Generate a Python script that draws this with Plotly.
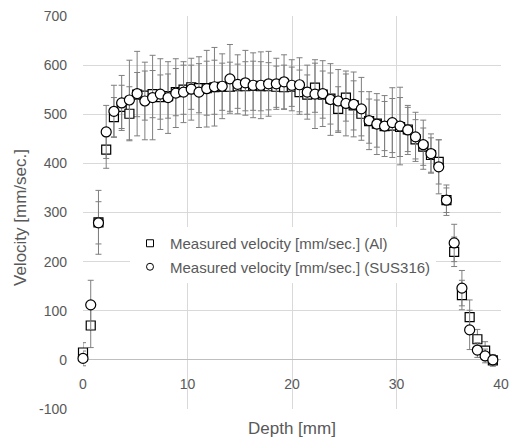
import plotly.graph_objects as go

# ---------------- data ----------------
depth_mm = [0, 0.74, 1.48, 2.22, 2.96, 3.7, 4.44, 5.18, 5.92, 6.66, 7.4, 8.14, 8.88, 9.62,
            10.36, 11.1, 11.84, 12.58, 13.32, 14.06, 14.8, 15.54, 16.28, 17.02, 17.76, 18.5,
            19.24, 19.98, 20.72, 21.46, 22.2, 22.94, 23.68, 24.42, 25.16, 25.9, 26.64, 27.38,
            28.12, 28.86, 29.6, 30.34, 31.08, 31.82, 32.56, 33.3, 34.04, 34.78, 35.52, 36.26,
            37.0, 37.74, 38.48, 39.22]

vel_al = [15, 70, 280, 428, 494, 515, 501, 540, 538, 541, 535, 537, 545, 550,
          555, 553, 553, 555, 556, 556, 557, 557, 558, 557, 557, 556,
          555, 556, 545, 540, 554, 540, 532, 511, 534, 518, 501, 486,
          481, 476, 477, 474, 469, 449, 434, 417, 403, 325, 220, 132,
          87, 42, 19, -1]

err_al = [20, 45, 65, 38, 40, 44, 55, 45, 50, 48, 45, 45, 48, 50,
          45, 50, 55, 55, 48, 50, 45, 50, 50, 50, 48, 42,
          45, 40, 45, 40, 50, 48, 52, 45, 48, 50, 45, 45,
          48, 50, 55, 60, 45, 40, 38, 35, 45, 25, 30, 30,
          35, 20, 18, 12]

vel_sus = [3, 112, 279, 464, 506, 523, 529, 542, 527, 534, 541, 534, 543, 545,
           551, 545, 552, 556, 557, 572, 561, 564, 559, 559, 562, 562,
           566, 559, 560, 545, 541, 542, 530, 527, 522, 520, 511, 487,
           480, 476, 483, 476, 468, 454, 438, 420, 393, 325, 238, 146,
           61, 20, 8, 0]

err_sus = [15, 50, 43, 54, 53, 56, 81, 86, 79, 86, 72, 73, 70, 62,
           63, 72, 78, 80, 66, 70, 60, 66, 66, 68, 66, 52,
           55, 52, 55, 55, 70, 67, 73, 64, 66, 66, 64, 59,
           62, 62, 71, 79, 50, 50, 50, 40, 55, 31, 38, 36,
           40, 15, 14, 10]

series_names = ["Measured velocity [mm/sec.] (Al)",
                "Measured velocity [mm/sec.] (SUS316)"]

x_ticks = [0, 10, 20, 30, 40]
y_ticks = [-100, 0, 100, 200, 300, 400, 500, 600, 700]

# ---------------- styling ----------------
FONT = "Liberation Sans, Arial, sans-serif"
TXT = "#595959"
GRID = "#d9d9d9"
ERR = "#7f7f7f"

fig = go.Figure()

def err(arr):
    return dict(type="data", array=arr, visible=True, color=ERR, thickness=1, width=3)

fig.add_trace(go.Scatter(
    x=depth_mm, y=vel_al, mode="markers", name=series_names[0], showlegend=False,
    error_y=err(err_al), cliponaxis=False,
    marker=dict(symbol="square", size=9, color="white", line=dict(color="black", width=1.2)),
))
fig.add_trace(go.Scatter(
    x=depth_mm, y=vel_sus, mode="markers", name=series_names[1], showlegend=False,
    error_y=err(err_sus), cliponaxis=False,
    marker=dict(symbol="circle", size=10, color="white", line=dict(color="black", width=1.2)),
))

# legend-only entries (smaller symbols as in the reference legend)
fig.add_trace(go.Scatter(
    x=[None], y=[None], mode="markers", name=series_names[0], legendgroup="a",
    marker=dict(symbol="square", size=7, color="white", line=dict(color="black", width=1)),
))
fig.add_trace(go.Scatter(
    x=[None], y=[None], mode="markers", name=series_names[1], legendgroup="b",
    marker=dict(symbol="circle", size=7, color="white", line=dict(color="black", width=1)),
))

fig.update_layout(
    width=510, height=440,
    margin=dict(l=83, r=9, t=16, b=31, autoexpand=False),
    paper_bgcolor="white", plot_bgcolor="white",
    font=dict(family=FONT, color=TXT, size=14),
    showlegend=True,
    legend=dict(
        x=(130 - 83) / 418, y=(409 - 227) / 393, xanchor="left", yanchor="top",
        bgcolor="white", borderwidth=0, font=dict(family=FONT, size=15, color=TXT),
        traceorder="grouped", tracegroupgap=1,
    ),
    xaxis=dict(
        range=[0, 40], tickvals=x_ticks, ticktext=[str(v) for v in x_ticks],
        showgrid=True, gridcolor=GRID, gridwidth=1, zeroline=False, showline=False,
        ticks="", anchor="free", position=100 / 800, ticklabelstandoff=14,
        automargin=False,
        tickfont=dict(family=FONT, size=14, color=TXT),
    ),
    yaxis=dict(
        range=[-100, 700], tickvals=y_ticks, ticktext=[str(v) for v in y_ticks],
        showgrid=True, gridcolor=GRID, gridwidth=1,
        zeroline=True, zerolinecolor="#bfbfbf", zerolinewidth=1,
        showline=False, ticks="", ticklabelstandoff=15, automargin=False,
        tickfont=dict(family=FONT, size=14, color=TXT),
    ),
    annotations=[
        dict(text="Depth [mm]", xref="paper", yref="paper", x=0.5, y=(409 - 428) / 393,
             xanchor="center", yanchor="middle", showarrow=False,
             font=dict(family=FONT, size=17, color=TXT)),
        dict(text="Velocity [mm/sec.]", xref="paper", yref="paper", x=(20 - 83) / 418,
             y=(409 - 217) / 393, xanchor="center", yanchor="middle", textangle=-90,
             showarrow=False, font=dict(family=FONT, size=17, color=TXT)),
    ],
)

# remove the default page margin so the 510x440 figure fills the window
fig.write_html("out.html", config={"displayModeBar": False},
               post_script="document.body.style.margin='0px';")
